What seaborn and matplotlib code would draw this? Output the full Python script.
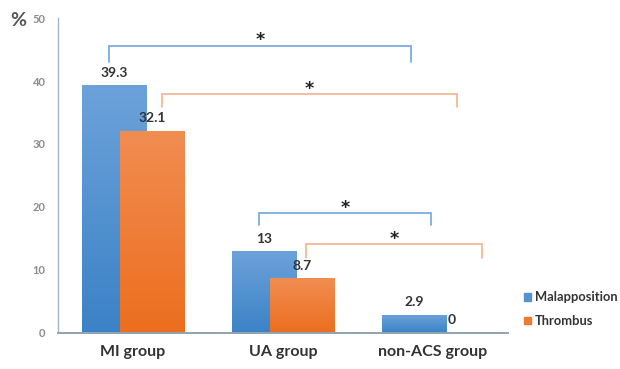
import numpy as np
import pandas as pd
import seaborn as sns
import matplotlib.pyplot as plt
from matplotlib.colors import LinearSegmentedColormap

# Data
groups = ["MI group", "UA group", "non-ACS group"]
series = ["Malapposition", "Thrombus"]
malapposition = [39.3, 13, 2.9]
thrombus = [32.1, 8.7, 0]
y_ticks = [0, 10, 20, 30, 40, 50]

# Significance brackets: (x start, x end, y of bar, y of legs' ends, colour key)
brackets = [
    (-0.16, 1.853, 45.6, 43.0, "blue"),
    (0.193, 2.16, 37.9, 35.8, "orange"),
    (0.84, 1.987, 19.0, 17.1, "blue"),
    (1.153, 2.327, 14.1, 11.9, "orange"),
]

blue, orange = "#5592D2", "#EE7A30"
blue_grad = ("#3B82C6", "#6CA2DA")
orange_grad = ("#EC6E1E", "#F18D52")
bracket_colors = {"blue": "#6FA5E0", "orange": "#F5B48E"}
text_dark = "#333333"

df = pd.DataFrame({
    "group": groups * 2,
    "series": [series[0]] * len(groups) + [series[1]] * len(groups),
    "value": malapposition + thrombus,
})

sns.set_theme(style="white")
plt.rcParams["font.family"] = ["Lato", "DejaVu Sans"]

fig = plt.figure(figsize=(6.2, 3.69), dpi=100)
ax = fig.add_axes([0.0935, 0.0976, 0.7255, 0.8536])

sns.barplot(data=df, x="group", y="value", hue="series", order=groups,
            hue_order=series, palette=[blue, orange], width=0.854,
            dodge=True, ax=ax, saturation=1, edgecolor="none", linewidth=0)

# Pull the paired bars towards each other so they overlap
shift = 0.0865
for cont, s in zip(ax.containers, [shift, -shift]):
    for p in cont.patches:
        p.set_x(p.get_x() + s)

# Vertical gradient fill clipped to each bar
for cont, (c0, c1) in zip(ax.containers, [blue_grad, orange_grad]):
    cmap = LinearSegmentedColormap.from_list("g", [c0, c1])
    for p in cont.patches:
        h = p.get_height()
        if h <= 0:
            continue
        x0 = p.get_x()
        grad = np.linspace(0, 1, 256).reshape(-1, 1)
        im = ax.imshow(grad, extent=[x0, x0 + p.get_width(), 0, h],
                       origin="lower", aspect="auto", cmap=cmap,
                       zorder=p.get_zorder() + 0.01, interpolation="bicubic")
        im.set_clip_path(p)
ax.set_xlim(-0.5, 2.5)
ax.set_ylim(0, 50)

# Value labels
for cont, vals in zip(ax.containers, [malapposition, thrombus]):
    for p, v in zip(cont.patches, vals):
        ax.annotate(f"{v:g}", (p.get_x() + p.get_width() / 2, v),
                    xytext=(0, 9), textcoords="offset points",
                    ha="center", va="center", fontsize=10,
                    fontweight="bold", color=text_dark, zorder=5)

# Significance brackets
for x0, x1, yt, yb, ck in brackets:
    ax.plot([x0, x0, x1, x1], [yb, yt, yt, yb], color=bracket_colors[ck],
            lw=1.2, solid_joinstyle="miter", clip_on=False, zorder=4)
    ax.text((x0 + x1) / 2, yt + 0.1, "*", ha="center", va="baseline",
            fontsize=12.5, fontweight="bold", color="#222222",
            family="DejaVu Sans")

# Axes styling
for side in ["top", "right"]:
    ax.spines[side].set_visible(False)
ax.spines["left"].set_color("#A6B6C6")
ax.spines["bottom"].set_color("#8FA3B5")
ax.spines["left"].set_linewidth(1.0)
ax.spines["bottom"].set_linewidth(1.4)
ax.set_yticks(y_ticks)
ax.tick_params(axis="y", length=0, pad=9, labelsize=8, labelcolor="#8C8C8C")
ax.tick_params(axis="x", length=0, pad=9, labelsize=11.5, labelcolor=text_dark)
for t in ax.get_yticklabels():
    t.set_fontweight("bold")
for t in ax.get_xticklabels():
    t.set_fontweight("bold")
ax.set_xlabel("")
ax.set_ylabel("")
fig.text(18 / 620, 0.945, "%", fontsize=14, fontweight="bold", color="#555555",
         ha="center", va="center")

# Legend
ax.legend_.remove()
handles = [plt.Rectangle((0, 0), 1, 1, color=c) for c in (blue, orange)]
fig.legend(handles, series, loc="center left", bbox_to_anchor=(0.837, 0.162),
           frameon=False, handlelength=0.55, handleheight=0.55,
           handletextpad=0.3, labelspacing=0.9, borderaxespad=0,
           prop={"weight": "bold", "size": 9.3})
for t in fig.legends[0].get_texts():
    t.set_color(text_dark)

fig.savefig("out.png", dpi=100, facecolor="white")
